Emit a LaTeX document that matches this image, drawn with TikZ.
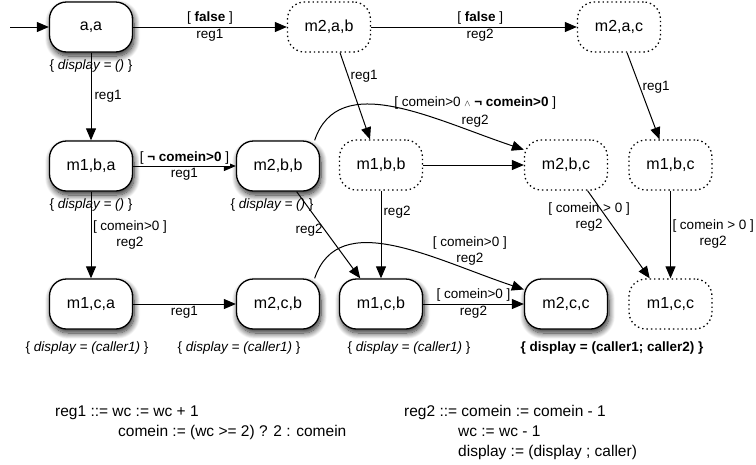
\documentclass[tikz,border=0pt]{standalone}
\usepackage{fontspec}
\setmainfont{Liberation Sans}
\usetikzlibrary{arrows.meta,positioning,shadows.blur}

\begin{document}
\begin{tikzpicture}[
    x=1pt, y=1pt,
    state/.style={rectangle, rounded corners=17pt, minimum width=83pt, minimum height=50pt, line width=1.3pt, font=\fontsize{16}{19}\selectfont},
    live/.style={state, draw, fill=white, blur shadow={shadow xshift=1.5pt, shadow yshift=-4pt, shadow blur radius=6pt, shadow blur steps=12, shadow opacity=85}},
    ghost/.style={state, draw, dash pattern=on 1.4pt off 3pt, fill=white},
    note/.style={font=\fontsize{13.5}{16}\selectfont, inner sep=0pt},
    lbl/.style={font=\fontsize{13.5}{16}\selectfont, align=center, inner sep=2pt},
    code/.style={font=\fontsize{15.5}{20}\selectfont, inner sep=0pt, anchor=base west},
    trans/.style={draw, line width=1pt, -{Triangle[length=12pt,width=10pt]}}
]
\useasboundingbox (0,0) rectangle (756,-464);

\node[live] (aa) at (91,-27) {a,a};
\node[ghost] (m2ab) at (329,-27) {m2,a,b};
\node[ghost] (m2ac) at (619,-27) {m2,a,c};
\node[live] (m1ba) at (91,-166) {m1,b,a};
\node[live] (m2bb) at (278,-166) {m2,b,b};
\node[ghost] (m1bb) at (381,-165) {m1,b,b};
\node[ghost] (m2bc) at (566,-165) {m2,b,c};
\node[ghost] (m1bc) at (670.5,-165) {m1,b,c};
\node[live] (m1ca) at (91,-304) {m1,c,a};
\node[live] (m2cb) at (278,-304) {m2,c,b};
\node[live] (m1cb) at (381,-304) {m1,c,b};
\node[live] (m2cc) at (566,-304) {m2,c,c};
\node[ghost] (m1cc) at (670.5,-304) {m1,c,c};
\coordinate (init) at (10,-27);

\node[note, below=7pt of aa] (naa) {\{ \textit{display = ()} \}};
\node[note, below=7pt of m1ba] (nm1ba) {\{ \textit{display = ()} \}};
\node[note, below=7pt of m2bb, xshift=-6pt] (nm2bb) {\{ \textit{display = ()} \}};
\node[note, below=12pt of m1ca, xshift=-4pt] (nm1ca) {\{ \textit{display = (caller1)} \}};
\node[note, below=12pt of m2cb, xshift=-39pt] (nm2cb) {\{ \textit{display = (caller1)} \}};
\node[note, below=12pt of m1cb, xshift=28pt] (nm1cb) {\{ \textit{display = (caller1)} \}};
\node[note, below=12pt of m2cc, xshift=46pt] (nm2cc) {\textbf{\{ display = (caller1; caller2) \}}};

\draw[trans] (init) -- (aa);
\draw[trans] (aa) -- node[lbl, above] {[ \textbf{false} ]} node[lbl, below] {reg1} (m2ab);
\draw[trans] (m2ab) -- node[lbl, above, pos=.53] {[ \textbf{false} ]} node[lbl, below, pos=.53] {reg2} (m2ac);
\draw[trans] (aa) -- node[lbl, right, inner sep=3pt] {reg1} (m1ba);
\draw[trans] ([xshift=11pt]m2ab.south) -- node[lbl, right, pos=.27] {reg1} ([xshift=-11pt]m1bb.north);
\draw[trans] ([xshift=8pt]m2ac.south) -- node[lbl, right, pos=.4] {reg1} ([xshift=-11pt]m1bc.north);
\draw[trans] (m1ba) -- node[lbl, above, fill=white, inner sep=1pt] {[ \textbf{¬ comein>0} ]} node[lbl, below] {reg1} (m2bb);
\draw[trans] (m2bb.35) .. controls +(24,71) and +(-90,30) .. node[lbl, pos=.82, above=3pt] {[ comein>0 \ensuremath{\scriptstyle\wedge} \textbf{¬ comein>0} ]\\[2pt]reg2} (m2bc.160);
\draw[trans] (m1bb) -- (m2bc);
\draw[trans] (m1bb) -- node[lbl, right, pos=.25] {reg2} (m1cb);
\draw[trans] (m2bb.-54) -- node[lbl, left, pos=.45] {reg2} (m1cb.129);
\draw[trans] (m1ba) -- node[lbl, right, inner sep=1.5pt] {[ comein>0 ]\\reg2} (m1ca);
\draw[trans] (m1ca) -- node[lbl, below] {reg1} (m2cb);
\draw[trans] (m2cb.35) .. controls +(24,71) and +(-90,30) .. node[lbl, pos=.8, above=2pt] {[ comein>0 ]\\reg2} (m2cc.161);
\draw[trans] (m1cb) -- node[lbl, above] {[ comein>0 ]} node[lbl, below] {reg2} (m2cc);
\draw[trans] (m2bc.-50) -- node[lbl, pos=.3, xshift=-17pt] {[ comein > 0 ]\\reg2} (m1cc.129);
\draw[trans] (m1bc) -- node[lbl, right, inner sep=1.5pt] {[ comein > 0 ]\\reg2} (m1cc);

\node[code] (r1a) at (55,-416) {reg1 ::= wc := wc + 1};
\node[code] (r1b) at (118,-436) {comein := (wc >= 2) ? 2 : comein};
\node[code] (r2a) at (404,-416) {reg2 ::= comein := comein - 1};
\node[code] (r2b) at (458,-436) {wc := wc - 1};
\node[code] (r2c) at (458,-456) {display := (display ; caller)};
\end{tikzpicture}
\end{document}
